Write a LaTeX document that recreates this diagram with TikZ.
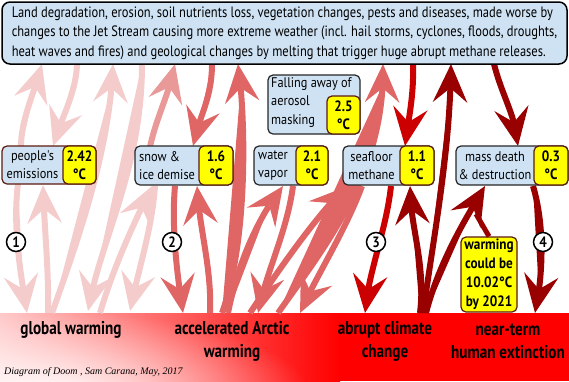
\documentclass[tikz,border=0pt]{standalone}
\usepackage{fontspec}
\setmainfont{PT Sans}
\newfontfamily\topfont{PT Sans}[FakeStretch=0.833]
\newfontfamily\boxfont{PT Sans}[FakeStretch=0.88]
\newfontfamily\bandfont{PT Sans}[FakeStretch=0.82]
\newfontfamily\capfont{Liberation Serif}
\usetikzlibrary{arrows.meta,bending,fadings}
\definecolor{cA}{HTML}{F4CCCC}
\definecolor{cAm}{HTML}{EA9999}
\definecolor{cB}{HTML}{E06666}
\definecolor{cC}{HTML}{CC0000}
\definecolor{cD}{HTML}{990000}
\definecolor{boxblue}{HTML}{CFE2F3}
\definecolor{boxyel}{HTML}{FFFF00}
\definecolor{brownb}{HTML}{5B1A0E}
\tikzfading[name=myfade, inner color=transparent!0, outer color=transparent!100]
\begin{document}
\begin{tikzpicture}[x=1pt,y=-1pt,
  arr/.style={line width=6pt, -{Stealth[length=38pt,width=34pt,inset=14pt]}},
  arrA/.style={arr, draw=cA, fill=cA},
  arrAm/.style={arr, draw=cAm, fill=cAm},
  arrB/.style={arr, draw=cB, fill=cB},
  arrC/.style={arr, draw=cC, fill=cC},
  arrD/.style={arr, draw=cD, fill=cD},
  bbox/.style={draw=black!85, fill=boxblue, rounded corners=5pt, line width=1.2pt, inner sep=0pt},
  ybox/.style={draw=brownb, fill=boxyel, rounded corners=5pt, line width=1.2pt, inner sep=0pt, align=center, font=\boxfont\bfseries\fontsize{15}{18}\selectfont},
  btxt/.style={inner sep=0pt, font=\boxfont\fontsize{14}{18}\selectfont},
  circ/.style={circle, draw=black, fill=white, line width=1.5pt, inner sep=0pt, minimum size=19pt, font=\boxfont\bfseries\fontsize{15}{15}\selectfont},
  band/.style={font=\bandfont\bfseries\fontsize{18.5}{23}\selectfont, align=center, inner sep=0pt}]
\useasboundingbox (0,0) rectangle (569,381);
% bottom band
\begin{scope}
\clip (0,313) rectangle (569,381);
\shade[left color=red!22!white, right color=red] (0,313) rectangle (340,381);
\fill[red] (339,313) rectangle (569,381);
\fill[white, path fading=myfade] (40,395) ellipse [x radius=270pt, y radius=85pt];
\end{scope}
% end points
\coordinate (a0) at (21,150);  \coordinate (a1) at (42,64);
\coordinate (b0) at (18,184);  \coordinate (b1) at (27,313);
\coordinate (c0) at (77,64);   \coordinate (c1) at (53,146);
\coordinate (d0) at (48,313);  \coordinate (d1) at (43,185);
\coordinate (e0) at (52,313);  \coordinate (e1) at (113,64);
\coordinate (f0) at (142,64);  \coordinate (f1) at (88,311);
\coordinate (g0) at (155,186); \coordinate (g1) at (130,311);
\coordinate (h0) at (100,313); \coordinate (h1) at (152,186);
\coordinate (m0) at (150,147); \coordinate (m1) at (175,64);
\coordinate (i0) at (212,64);  \coordinate (i1) at (193,146);
\coordinate (j0) at (222,313); \coordinate (j1) at (238,64);
\coordinate (k0) at (175,186); \coordinate (k1) at (183,313);
\coordinate (l0) at (210,313); \coordinate (l1) at (197,186);
\coordinate (n0) at (228,313); \coordinate (n1) at (283,186);
\coordinate (o0) at (293,186); \coordinate (o1) at (258,313);
\coordinate (p0) at (250,313); \coordinate (p1) at (348,186);
\coordinate (q0) at (362,186); \coordinate (q1) at (300,313);
\coordinate (r0) at (278,313); \coordinate (r1) at (383,64);
\coordinate (s0) at (413,64);  \coordinate (s1) at (405,146);
\coordinate (t0) at (391,186); \coordinate (t1) at (365,313);
\coordinate (u0) at (420,313); \coordinate (u1) at (410,186);
\coordinate (v0) at (423,313); \coordinate (v1) at (451,64);
\coordinate (w0) at (426,313); \coordinate (w1) at (485,186);
\coordinate (x0) at (494,64);  \coordinate (x1) at (518,146);
\coordinate (y0) at (533,186); \coordinate (y1) at (535,313);
\coordinate (z1) at (476,214);
% region 1
\draw[arrA] (a0) .. controls (20,120) and (35,92) .. (a1);
\draw[arrA] (b0) .. controls (12,230) and (22,280) .. (b1);
\draw[arrA] (c0) .. controls (76,95) and (60,120) .. (c1);
\draw[arrA] (d0) .. controls (49,270) and (44,225) .. (d1);
\draw[arrA] (e0) .. controls (78,240) and (110,150) .. (e1);
\draw[arrA] (f0) .. controls (142,170) and (100,240) .. (f1);
\draw[arrA] (g0) .. controls (152,230) and (138,270) .. (g1);
\draw[arrA] (h0) .. controls (115,262) and (138,215) .. (h1);
\draw[arrAm] (m0) .. controls (156,118) and (170,92) .. (m1);
% region 2
\draw[arrB] (i0) .. controls (212,100) and (198,118) .. (i1);
\draw[arrB] (j0) .. controls (248,240) and (246,120) .. (j1);
\draw[arrB] (k0) .. controls (171,230) and (178,280) .. (k1);
\draw[arrB] (l0) .. controls (212,268) and (199,228) .. (l1);
\draw[arrB] (n0) .. controls (240,252) and (265,208) .. (n1);
\draw[arrB] (o0) .. controls (287,232) and (266,272) .. (o1);
\draw[arrB] (p0) .. controls (285,260) and (325,205) .. (p1);
\draw[arrB] (q0) .. controls (345,232) and (315,278) .. (q1);
\draw[arrB] (r0) .. controls (330,240) and (385,170) .. (r1);
% region 3
\draw[arrC] (s0) .. controls (414,98) and (408,120) .. (s1);
\draw[arrC] (t0) .. controls (386,232) and (368,272) .. (t1);
% region 4
\draw[arrD] (u0) .. controls (426,262) and (410,228) .. (u1);
\draw[arrD] (v0) .. controls (436,222) and (450,150) .. (v1);
\draw[arrD] (w0) .. controls (440,258) and (470,212) .. (w1);
\draw[arrD] (x0) .. controls (502,96) and (516,116) .. (x1);
\draw[arrD] (y0) .. controls (546,230) and (542,280) .. (y1);
% top box
\node[bbox, draw=black, line width=1.5pt, rounded corners=8pt, minimum width=565pt, minimum height=62pt, align=left, font=\topfont\fontsize{15}{19.5}\selectfont] (top) at (284.5,33) {Land degradation, erosion, soil nutrients loss, vegetation changes, pests and diseases, made worse by\\changes to the Jet Stream causing more extreme weather (incl. hail storms, cyclones, floods, droughts,\\heat waves and fires) and geological changes by melting that trigger huge abrupt methane releases.};
% small boxes
\node[bbox, draw=brownb, minimum width=94pt, minimum height=38pt] (pe) at (49,165) {};
\node[ybox, minimum width=33pt, minimum height=38pt, anchor=east] (peY) at (pe.east) {2.42\\°C};
\node[btxt, align=center] (peT) at (32.5,165) {people's\\emissions};
\node[bbox, minimum width=98pt, minimum height=39pt] (sn) at (184,165.5) {};
\node[ybox, minimum width=34pt, minimum height=39pt, anchor=east] (snY) at (sn.east) {1.6\\°C};
\node[btxt, align=left, anchor=west] (snT) at (139,165.5) {snow \&\\ice demise};
\node[bbox, minimum width=74pt, minimum height=39pt] (wv) at (291,165.5) {};
\node[ybox, minimum width=32pt, minimum height=39pt, anchor=east] (wvY) at (wv.east) {2.1\\°C};
\node[btxt, align=left, anchor=west] (wvT) at (258,165.5) {water\\vapor};
\node[bbox, minimum width=92pt, minimum height=59pt] (fa) at (314,104.5) {};
\node[ybox, minimum width=33pt, minimum height=38pt, anchor=south east] (faY) at (fa.south east) {2.5\\°C};
\node[btxt, align=left, anchor=north west, font=\boxfont\fontsize{14}{18.5}\selectfont] (faT) at (271,77) {Falling away of\\aerosol\\masking};
\node[bbox, minimum width=91pt, minimum height=39pt] (sf) at (388.5,165.5) {};
\node[ybox, minimum width=34pt, minimum height=39pt, anchor=east] (sfY) at (sf.east) {1.1\\°C};
\node[btxt, align=center] (sfT) at (371.5,165.5) {seafloor\\methane};
\node[bbox, minimum width=112pt, minimum height=39pt] (md) at (512,165.5) {};
\node[ybox, minimum width=34pt, minimum height=39pt, anchor=east] (mdY) at (md.east) {0.3\\°C};
\node[btxt, align=center] (mdT) at (495,165.5) {mass death\\\& destruction};
\node[ybox, minimum width=56pt, minimum height=75pt, font=\boxfont\bfseries\fontsize{15}{19}\selectfont] (wa) at (489,274.5) {warming\\could be\\10.02°C\\by 2021};
\draw[cD, line width=5pt] (wa.north) -- (z1);
% numbers
\node[circ] (c1n) at (16,242) {1};
\node[circ] (c2n) at (172,242) {2};
\node[circ] (c3n) at (376,242) {3};
\node[circ] (c4n) at (543,242) {4};
% band labels
\node[band] (L1) at (71,330) {global warming};
\node[band] (L2) at (232,341.5) {accelerated Arctic\\warming};
\node[band] (L3) at (385,341.5) {abrupt climate\\change};
\node[band] (L4) at (508,341.5) {near-term\\human extinction};
\node[anchor=west, inner sep=0pt, font=\capfont\itshape\fontsize{10}{12}\selectfont] (cap) at (4,372) {Diagram of Doom , Sam Carana, May, 2017};
\end{tikzpicture}
\end{document}
